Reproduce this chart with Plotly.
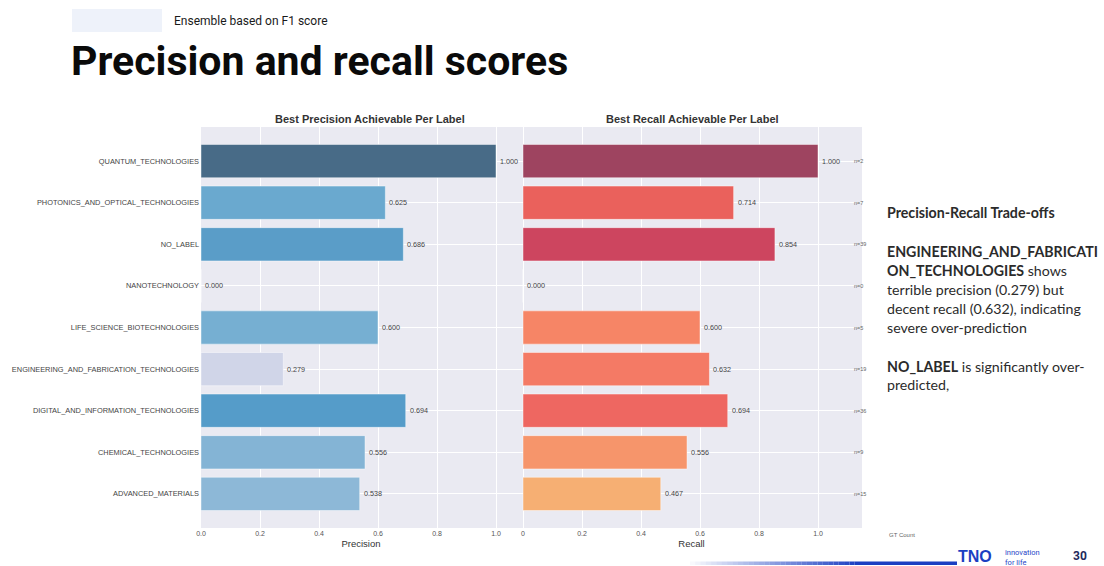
import plotly.graph_objects as go

W, H = 1104, 566

# ---- data -------------------------------------------------------------
labels = [
    "QUANTUM_TECHNOLOGIES",
    "PHOTONICS_AND_OPTICAL_TECHNOLOGIES",
    "NO_LABEL",
    "NANOTECHNOLOGY",
    "LIFE_SCIENCE_BIOTECHNOLOGIES",
    "ENGINEERING_AND_FABRICATION_TECHNOLOGIES",
    "DIGITAL_AND_INFORMATION_TECHNOLOGIES",
    "CHEMICAL_TECHNOLOGIES",
    "ADVANCED_MATERIALS",
]
precision = [1.000, 0.625, 0.686, 0.000, 0.600, 0.279, 0.694, 0.556, 0.538]
recall = [1.000, 0.714, 0.854, 0.000, 0.600, 0.632, 0.694, 0.556, 0.467]
gt_count = [2, 7, 39, 0, 5, 19, 36, 9, 15]

precision_colors = ["#486b87", "#6aa9cf", "#5a9dc8", "#6aa9cf", "#76afd2",
                    "#d0d5e8", "#559cc9", "#84b4d5", "#8db8d7"]
recall_colors = ["#9e4460", "#ea615c", "#cd455f", "#ea615c", "#f68566",
                 "#f47a65", "#ee6761", "#f6956b", "#f6af73"]

x_ticks = [0.0, 0.2, 0.4, 0.6, 0.8, 1.0]
x_ticktext_left = ["0.0", "0.2", "0.4", "0.6", "0.8", "1.0"]
x_ticktext_right = ["0", "0.2", "0.4", "0.6", "0.8", "1.0"]


def px(x):
    return x / W


def py(y):
    return 1 - y / H


AX_FONT = "Liberation Sans, Arial, sans-serif"
TXT = "#444444"

fig = go.Figure()

# ---- bars ---------------------------------------------------------------
fig.add_trace(go.Bar(
    x=precision, y=labels, orientation="h", width=0.8,
    marker=dict(color=precision_colors, line=dict(color="rgba(255,255,255,0.45)", width=1)),
    xaxis="x", yaxis="y", showlegend=False, hoverinfo="x+y",
))
fig.add_trace(go.Bar(
    x=recall, y=labels, orientation="h", width=0.8,
    marker=dict(color=recall_colors, line=dict(color="rgba(255,255,255,0.45)", width=1)),
    xaxis="x2", yaxis="y2", showlegend=False, hoverinfo="x+y",
))

y_dom = [py(528), py(127)]
y_range = [8.82, -0.82]
axis_common = dict(
    showgrid=True, gridcolor="#ffffff", gridwidth=1, zeroline=False,
    showline=False, ticks="", automargin=False,
    tickfont=dict(family=AX_FONT, size=7, color="#555"),
)

fig.update_layout(
    width=W, height=H,
    margin=dict(l=0, r=0, t=0, b=0),
    paper_bgcolor="#ffffff",
    plot_bgcolor="#eaeaf2",
    xaxis=dict(
        domain=[px(201), px(521)], range=[0, 320 / 295], anchor="y",
        tickvals=x_ticks, ticktext=x_ticktext_left,
        title=dict(text="Precision", font=dict(family=AX_FONT, size=9.5, color="#333"), standoff=4),
        **axis_common,
    ),
    yaxis=dict(
        domain=y_dom, range=y_range, type="category", categoryarray=labels,
        anchor="x", ticklabelstandoff=1, **{**axis_common,
                                            "tickfont": dict(family=AX_FONT, size=7.4, color="#444")},
    ),
    xaxis2=dict(
        domain=[px(521), px(862)], range=[-2 / 295, 339 / 295], anchor="y2",
        tickvals=x_ticks, ticktext=x_ticktext_right,
        title=dict(text="Recall", font=dict(family=AX_FONT, size=9.5, color="#333"), standoff=4),
        **axis_common,
    ),
    yaxis2=dict(
        domain=y_dom, range=y_range, type="category", categoryarray=labels,
        anchor="x2", showticklabels=False, **axis_common,
    ),
)

annotations = []
shapes = []

# value labels at the end of each bar
for axis_x, axis_y, values in [("x", "y", precision), ("x2", "y2", recall)]:
    for lab, v in zip(labels, values):
        annotations.append(dict(
            text=f"{v:.3f}", x=v, y=lab, xref=axis_x, yref=axis_y,
            xanchor="left", yanchor="middle", xshift=2, showarrow=False,
            font=dict(family=AX_FONT, size=7.2, color=TXT),
        ))

# subplot titles
for text, cx in [("Best Precision Achievable Per Label", 370),
                 ("Best Recall Achievable Per Label", 692)]:
    annotations.append(dict(
        text=f"<b>{text}</b>", x=px(cx), y=py(119), xref="paper", yref="paper",
        xanchor="center", yanchor="middle", showarrow=False,
        font=dict(family=AX_FONT, size=11, color="#333"),
    ))

# ground-truth counts beside the recall bars
for lab, n in zip(labels, gt_count):
    annotations.append(dict(
        text=f"n={n}", x=px(852), y=lab, xref="paper", yref="y2",
        xanchor="left", yanchor="middle", showarrow=False,
        font=dict(family=AX_FONT, size=5.5, color="#666"),
    ))
annotations.append(dict(
    text="GT Count", x=px(887), y=py(535), xref="paper", yref="paper",
    xanchor="left", yanchor="middle", showarrow=False,
    font=dict(family=AX_FONT, size=6, color="#666"),
))

# slide header
shapes.append(dict(type="rect", xref="paper", yref="paper",
                   x0=px(72), x1=px(162), y0=py(32), y1=py(9),
                   fillcolor="#eef2fa", line=dict(width=0), layer="below"))
annotations.append(dict(
    text="Ensemble based on F1 score", x=px(172), y=py(21), xref="paper", yref="paper",
    xanchor="left", yanchor="middle", showarrow=False,
    font=dict(family="Roboto, sans-serif", size=12, color="#1a1a1a"),
))
annotations.append(dict(
    text="<b>Precision and recall scores</b>", x=px(69), y=py(61), xref="paper", yref="paper",
    xanchor="left", yanchor="middle", showarrow=False,
    font=dict(family="Roboto, sans-serif", size=41, color="#0a0a0a"),
))

# side notes
note_lines = [
    (212, "<b>Precision-Recall Trade-offs</b>"),
    (251, "<b>ENGINEERING_AND_FABRICATI</b>"),
    (270, "<b>ON_TECHNOLOGIES</b> shows"),
    (289, "terrible precision (0.279) but"),
    (308, "decent recall (0.632), indicating"),
    (327, "severe over-prediction"),
    (366, "<b>NO_LABEL</b> is significantly over-"),
    (385, "predicted,"),
]
for yy, t in note_lines:
    annotations.append(dict(
        text=t, x=px(885), y=py(yy), xref="paper", yref="paper",
        xanchor="left", yanchor="middle", showarrow=False,
        font=dict(family="Lato, sans-serif", size=14.2, color="#2b2b2b"),
    ))

# footer: fading rule, logo and page number
steps = 32
x_start, x_fade_end, x_end = 690, 860, 957
for i in range(steps):
    x0 = x_start + (x_fade_end - x_start) * i / steps
    x1 = x_start + (x_fade_end - x_start) * (i + 1) / steps
    shapes.append(dict(type="rect", xref="paper", yref="paper",
                       x0=px(x0), x1=px(x1), y0=py(565), y1=py(561.5),
                       fillcolor="#1b3fc2", opacity=(i + 1) / steps, line=dict(width=0)))
shapes.append(dict(type="rect", xref="paper", yref="paper",
                   x0=px(x_fade_end), x1=px(x_end), y0=py(565), y1=py(561.5),
                   fillcolor="#1b3fc2", line=dict(width=0)))
annotations.append(dict(
    text="<b>TNO</b>", x=px(956), y=py(556), xref="paper", yref="paper",
    xanchor="left", yanchor="middle", showarrow=False,
    font=dict(family="Liberation Sans, Arial, sans-serif", size=16, color="#1b3fc2"),
))
annotations.append(dict(
    text="innovation<br>for life", x=px(1003), y=py(557), xref="paper", yref="paper",
    xanchor="left", yanchor="middle", showarrow=False, align="left",
    font=dict(family="Roboto, sans-serif", size=7.5, color="#2747c8"),
))
annotations.append(dict(
    text="<b>30</b>", x=px(1080), y=py(556), xref="paper", yref="paper",
    xanchor="center", yanchor="middle", showarrow=False,
    font=dict(family="Roboto, sans-serif", size=12, color="#1f2a5c"),
))

fig.update_layout(annotations=annotations, shapes=shapes)
fig.write_html("out.html")
